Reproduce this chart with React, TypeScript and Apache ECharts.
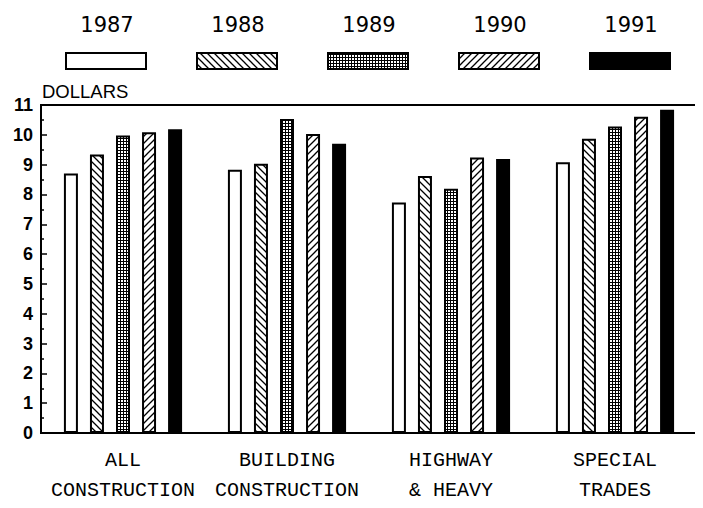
import React, { useEffect, useRef } from "react";
import * as echarts from "echarts";

const categories = ["ALL\nCONSTRUCTION", "BUILDING\nCONSTRUCTION", "HIGHWAY\n& HEAVY", "SPECIAL\nTRADES"];
const years = ["1987", "1988", "1989", "1990", "1991"];
const v1987 = [8.7, 8.83, 7.73, 9.08];
const v1988 = [9.34, 9.03, 8.62, 9.87];
const v1989 = [9.98, 10.53, 8.19, 10.28];
const v1990 = [10.09, 10.03, 9.24, 10.61];
const v1991 = [10.19, 9.7, 9.19, 10.84];
const seriesValues = [v1987, v1988, v1989, v1990, v1991];
const yTicks = { min: 0, max: 11, interval: 1 };

function makeTile(kind: string) {
  const s = kind === "grid" ? 3 : 7;
  const c = document.createElement("canvas");
  c.width = s;
  c.height = s;
  const ctx = c.getContext("2d")!;
  ctx.fillStyle = "#fff";
  ctx.fillRect(0, 0, s, s);
  ctx.strokeStyle = "#000";
  ctx.fillStyle = "#000";
  ctx.lineWidth = 1.3;
  if (kind === "back") {
    ctx.beginPath();
    ctx.moveTo(-1, -1); ctx.lineTo(s + 1, s + 1);
    ctx.moveTo(-1, s - 1); ctx.lineTo(1, s + 1);
    ctx.moveTo(s - 1, -1); ctx.lineTo(s + 1, 1);
    ctx.stroke();
  } else if (kind === "fwd") {
    ctx.beginPath();
    ctx.moveTo(-1, s + 1); ctx.lineTo(s + 1, -1);
    ctx.moveTo(-1, 1); ctx.lineTo(1, -1);
    ctx.moveTo(s - 1, s + 1); ctx.lineTo(s + 1, s - 1);
    ctx.stroke();
  } else if (kind === "grid") {
    ctx.fillRect(0, 0, s, 1);
    ctx.fillRect(0, 0, 1, s);
  }
  return { image: c, repeat: "repeat", imageWidth: s, imageHeight: s } as any;
}

export default function App() {
  const ref = useRef<HTMLDivElement>(null);
  useEffect(() => {
    if (!ref.current) return;
    const chart = echarts.init(ref.current, undefined, { renderer: "svg" });
    const fills: any[] = ["#fff", makeTile("back"), makeTile("grid"), makeTile("fwd"), "#000"];
    const boxLefts = [66, 197, 328, 459, 590];
    const legendGraphics: any[] = [];
    years.forEach((y, i) => {
      legendGraphics.push({
        type: "text",
        x: boxLefts[i] + 41,
        y: 25,
        style: {
          text: y,
          fill: "#000",
          font: "21px 'DejaVu Sans', sans-serif",
          align: "center",
          verticalAlign: "middle",
        },
      });
      legendGraphics.push({
        type: "rect",
        shape: { x: boxLefts[i], y: 53, width: 80, height: 16 },
        style: { fill: fills[i], stroke: "#000", lineWidth: 2 },
      });
    });
    legendGraphics.push({
      type: "text",
      x: 42,
      y: 91,
      style: {
        text: "DOLLARS",
        fill: "#000",
        font: "18.5px 'Liberation Sans', Arial, sans-serif",
        align: "left",
        verticalAlign: "middle",
      },
    });
    chart.setOption({
      animation: false,
      backgroundColor: "#fff",
      grid: {
        left: 41,
        right: 6,
        top: 105,
        bottom: 75,
        show: true,
        borderColor: "#000",
        borderWidth: 2,
        backgroundColor: "transparent",
      },
      xAxis: {
        type: "category",
        data: categories,
        axisLine: { lineStyle: { color: "#000", width: 2 } },
        axisTick: { show: false },
        axisLabel: {
          interval: 0,
          color: "#000",
          fontFamily: "'Liberation Mono', 'DejaVu Sans Mono', monospace",
          fontSize: 20,
          lineHeight: 30,
          margin: 12,
        },
      },
      yAxis: {
        type: "value",
        min: yTicks.min,
        max: yTicks.max,
        interval: yTicks.interval,
        axisLine: { show: true, lineStyle: { color: "#000", width: 2 } },
        axisTick: { show: true, inside: true, length: 6, lineStyle: { color: "#000", width: 1.5 } },
        minorTick: { show: true, splitNumber: 2, length: 3, lineStyle: { color: "#000", width: 1.5 } },
        splitLine: { show: false },
        axisLabel: {
          color: "#000",
          fontFamily: "'Liberation Sans', Arial, sans-serif",
          fontWeight: "bold",
          fontSize: 18,
          margin: 8,
        },
      },
      graphic: legendGraphics,
      series: years.map((y, i) => ({
        name: y,
        type: "bar",
        data: seriesValues[i],
        barWidth: 14,
        barGap: "86%",
        itemStyle: { color: fills[i], borderColor: "#000", borderWidth: 2 },
      })),
    });
    return () => chart.dispose();
  }, []);
  return <div ref={ref} style={{ width: 703, height: 508, margin: -8 }} />;
}
